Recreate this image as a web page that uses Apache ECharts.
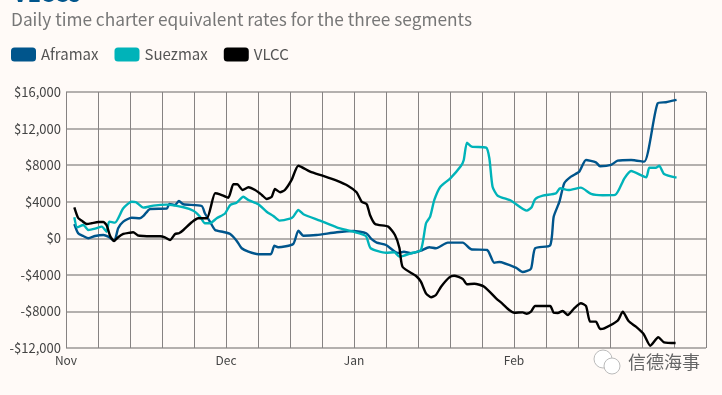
<!DOCTYPE html>
<html><head><meta charset="utf-8">
<style>html,body{margin:0;padding:0;background:#fffaf7}#c{width:722px;height:395px}</style>
<script src="https://cdn.jsdelivr.net/npm/echarts@6/dist/echarts.min.js"></script>
</head><body><div id="c"></div>
<script>
const xTickWeeks = [0, 5, 9, 14];
const xTickLabels = ['Nov', 'Dec', 'Jan', 'Feb'];
const yTickLabels = {'16000':'$16,000','12000':'$12,000','8000':'$8000','4000':'$4000','0':'$0','-4000':'-$4000','-8000':'-$8000','-12000':'-$12,000'};

const aframaxWeeks = [.26,.38,.54,.70,.91,1.17,1.32,1.51,1.63,1.79,2.05,2.31,2.42,2.63,3.15,3.23,3.41,3.53,3.67,4.24,4.34,4.50,4.66,4.92,5.13,5.33,5.49,5.70,6.01,6.40,6.51,6.63,7.10,7.26,7.42,7.83,8.46,8.98,9.38,9.56,9.71,10.00,10.37,10.56,10.78,11.09,11.35,11.56,11.93,12.40,12.66,13.16,13.38,13.54,14.06,14.27,14.53,14.66,15.13,15.24,15.42,15.57,15.78,16.04,16.25,16.56,16.69,17.03,17.24,17.66,18.07,18.49,18.75,19.08];
const aframaxRates = [1560,550,250,0,250,360,180,-260,1090,1820,2250,2190,2440,3210,3240,3750,3640,4080,3720,3530,2740,1820,910,690,470,-260,-1090,-1470,-1750,-1750,-810,-980,-620,830,280,360,660,800,550,-130,-480,-730,-1610,-1470,-1640,-1360,-980,-1090,-480,-480,-1200,-1280,-2670,-2590,-3220,-3690,-3330,-1090,-770,2360,4000,6020,6740,7290,8570,8310,7880,8020,8490,8570,8380,14770,14880,15130];

const suezmaxWeeks = [.26,.35,.54,.70,.91,1.12,1.27,1.35,1.53,1.79,2.05,2.19,2.42,2.73,3.15,3.67,3.98,4.19,4.34,4.50,4.71,4.97,5.13,5.33,5.54,5.70,6.01,6.27,6.48,6.67,7.00,7.10,7.26,7.42,7.94,8.46,8.98,9.37,9.52,10.00,10.26,10.42,10.78,11.09,11.25,11.38,11.51,11.70,12.01,12.34,12.43,12.53,12.68,13.13,13.23,13.33,13.49,13.91,14.40,14.55,14.66,14.90,15.31,15.44,15.70,16.09,16.41,16.77,17.16,17.45,17.66,18.13,18.23,18.44,18.54,18.69,19.08];
const suezmaxRates = [2300,1200,1460,910,1050,1270,720,1820,1710,3280,4000,3940,3350,3570,3680,3390,3020,2360,1640,1640,2190,2710,3640,3890,4550,4190,3720,2910,2440,1930,2140,2360,3100,2630,1930,1200,720,250,-1090,-1580,-1530,-2010,-1640,-1280,1640,2360,4190,5640,6560,7910,8570,10460,10020,9910,8750,5640,4660,4110,3020,3390,4270,4660,4920,5470,5280,5540,4850,4700,4740,6560,7360,6670,7720,7720,7940,7030,6630];

const vlccWeeks = [.26,.38,.49,.65,.80,1.01,1.17,1.27,1.38,1.50,1.63,1.79,2.00,2.10,2.24,2.42,2.63,2.94,3.09,3.25,3.41,3.53,3.67,3.93,4.13,4.40,4.66,4.81,5.07,5.23,5.35,5.52,5.70,5.91,6.12,6.27,6.43,6.53,6.69,6.84,7.05,7.26,7.63,8.04,8.46,8.82,9.08,9.24,9.40,9.50,9.66,10.07,10.28,10.42,10.52,10.94,11.09,11.25,11.41,11.56,11.72,11.98,12.13,12.40,12.53,12.76,13.07,13.44,13.65,13.85,14.01,14.27,14.40,14.53,14.66,15.13,15.24,15.37,15.52,15.68,15.88,16.09,16.25,16.38,16.56,16.69,16.82,17.24,17.40,17.58,17.81,18.05,18.26,18.51,18.69,19.05];
const vlccRates = [3390,2220,1930,1560,1640,1780,1780,1420,250,-300,110,470,610,660,330,250,220,220,110,-190,470,550,910,1750,2190,2190,4920,4810,4440,5910,5910,5280,5580,5280,4740,4300,4550,5390,5030,5280,6380,7940,7290,6820,6300,5720,5030,4000,3720,2550,1560,1270,360,-1060,-3140,-4120,-4750,-6020,-6450,-6200,-5290,-4270,-4090,-4450,-5030,-4970,-5290,-6560,-7190,-7840,-8140,-8100,-8250,-8030,-7410,-7410,-8140,-8170,-7950,-8390,-7660,-7110,-7410,-9120,-9120,-9920,-9850,-9010,-8030,-9050,-9670,-10470,-11750,-10830,-11380,-11450];

const zip = (a, b) => a.map((v, i) => [v, b[i]]);
const FONT = '"Noto Sans CJK SC","Noto Sans",sans-serif';
const lineSeries = (name, color, xs, ys) => ({
  name, type: 'line', data: zip(xs, ys), showSymbol: false, symbol: 'none', smooth: 0.2,
  lineStyle: {color, width: 2.4}, itemStyle: {color}
});

const chart = echarts.init(document.getElementById('c'), null, {renderer: 'canvas'});
chart.setOption({
  animation: false,
  backgroundColor: '#fffaf7',
  textStyle: {fontFamily: FONT},
  grid: {left: 66, top: 92, width: 640, height: 256, containLabel: false},
  legend: {
    left: 6, top: 42, itemWidth: 25, itemHeight: 14, itemGap: 16, icon: 'roundRect',
    textStyle: {fontFamily: FONT, fontSize: 15, color: '#555'},
    data: ['Aframax', 'Suezmax', 'VLCC']
  },
  xAxis: {
    type: 'value', min: 0, max: 20, interval: 1,
    axisLine: {show: false}, axisTick: {show: false},
    splitLine: {show: true, lineStyle: {color: '#868282', width: 1}},
    axisLabel: {
      showMinLabel: true, showMaxLabel: true, margin: 6, color: '#444', fontSize: 12, fontFamily: FONT,
      formatter: v => { const i = xTickWeeks.indexOf(v); return i >= 0 ? xTickLabels[i] : ''; }
    }
  },
  yAxis: {
    type: 'value', min: -12000, max: 16000, interval: 4000,
    axisLine: {show: false}, axisTick: {show: false},
    splitLine: {show: true, lineStyle: {color: '#9b9796', width: 1.5}},
    axisLabel: {margin: 5, color: '#444', fontSize: 13, fontFamily: FONT, formatter: v => yTickLabels[String(v)]}
  },
  series: [
    lineSeries('Aframax', '#00558c', aframaxWeeks, aframaxRates),
    lineSeries('Suezmax', '#00b3b9', suezmaxWeeks, suezmaxRates),
    lineSeries('VLCC', '#000000', vlccWeeks, vlccRates)
  ],
  graphic: [
    {type: 'text', left: 13, top: -18, style: {text: 'VLCCs', fill: '#00558c', font: 'bold 23px ' + FONT}},
    {type: 'text', left: 11, top: 11, style: {text: 'Daily time charter equivalent rates for the three segments', fill: '#777', font: '17.3px ' + FONT}},
    {type: 'circle', shape: {cx: 603, cy: 359, r: 9}, style: {fill: '#fff', stroke: '#bbb', lineWidth: 1}},
    {type: 'circle', shape: {cx: 612, cy: 366, r: 8}, style: {fill: '#fff', stroke: '#bbb', lineWidth: 1}},
    {type: 'text', left: 628, top: 353, style: {text: '信德海事', fill: '#666', font: '18px "Noto Sans CJK SC"'}}
  ]
});
</script></body></html>
